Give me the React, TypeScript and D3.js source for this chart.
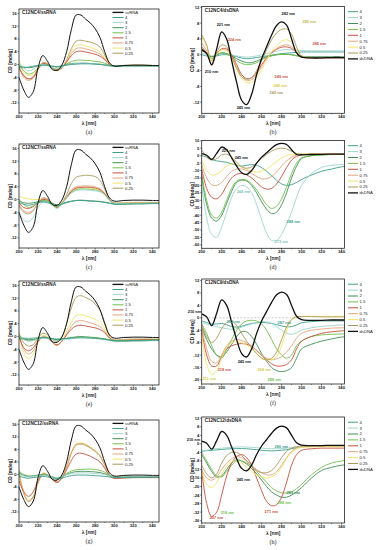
import React from 'react';
import * as d3 from 'd3';

// wavelength grid shared by every curve (nm)
const wavelengths = [200, 205, 210, 215, 220, 225, 230, 235, 240, 245, 250, 255, 260, 265, 270, 275, 280, 285, 290, 295, 300, 310, 320, 330, 340, 350];

const rnaSeries = ['ssRNA', '4', '3', '2', '1.5', '1', '0.75', '0.5', '0.25'];
const dnaSeries = ['4', '3', '2', '1.5', '1', '0.75', '0.5', '0.25', 'dsDNA'];

const seriesColors: Record<string, string> = {
  ssRNA: '#111111',
  dsDNA: '#111111',
  '4': '#3f9e8c',
  '3': '#9dd5cc',
  '2': '#3f8f55',
  '1.5': '#72bf4c',
  '1': '#c64f3c',
  '0.75': '#e2a47c',
  '0.5': '#f1e46a',
  '0.25': '#a8995a',
};

const xTicks = [200, 220, 240, 260, 280, 300, 320, 340];
const xMinorTicks = [210, 230, 250, 270, 290, 310, 330];
const rnaTicks = [-12, -8, -4, 0, 4, 8, 12, 16];
const bTicks = [-12, -8, -4, 0, 4, 8, 12];
const dTicks = [-60, -55, -50, -45, -40, -35, -30, -25, -20, -15, -10, -5, 0, 5, 10];
const fTicks = [-20, -16, -12, -8, -4, 0, 4, 8, 12];
const hTicks = [-36, -32, -28, -24, -20, -16, -12, -8, -4, 0, 4, 8, 12];

const ssRNA = [-4, -8, -10.3, -8.5, -1, 2.8, 1, -1.6, -1.8, -0.2, 4, 11, 15.5, 15.5, 14.2, 13, 11.2, 8.5, 4, 0.5, -0.5, -0.3, -0.2, -0.2, -0.3, -0.3];
const dsDNA = [1.3, 0.3, -2.5, 1.5, 5.8, 4, -1.5, -7, -11.5, -12.6, -10, -5, -1, 2, 5, 7.4, 8.3, 7.5, 4, 0.5, -0.6, -0.8, -0.8, -0.7, -0.7, -0.7];

// (a) C12NC4/ssRNA : ssRNA, 4, 3, 2, 1.5, 1, 0.75, 0.5, 0.25
const aValues = [
  ssRNA,
  [-1, -1, -0.8, -0.5, -0.3, -0.2, -0.3, -0.5, -0.6, -0.4, -0.2, 0, 0.1, 0.2, 0.2, 0.2, 0.1, 0, -0.2, -0.4, -0.5, -0.4, -0.4, -0.4, -0.4, -0.4],
  [0.5, -1, -2, -1.5, -0.5, 0, -0.3, -1, -1.3, -0.8, -0.2, 0.1, 0.3, 0.4, 0.4, 0.3, 0.2, 0.1, -0.2, -0.5, -0.6, -0.5, -0.5, -0.5, -0.5, -0.5],
  [-0.5, -0.8, -1, -0.8, -0.4, -0.1, -0.2, -0.6, -0.8, -0.5, 0, 0.3, 0.4, 0.4, 0.4, 0.3, 0.2, 0.1, -0.1, -0.3, -0.4, -0.4, -0.4, -0.4, -0.4, -0.4],
  [0, -2, -3, -2.5, -1, 0, -0.2, -1, -1.5, -0.8, 0.2, 0.9, 1.3, 1.4, 1.3, 1.2, 1, 0.8, 0.4, -0.2, -0.5, -0.4, -0.4, -0.4, -0.4, -0.4],
  [-1, -3.5, -4.5, -4, -1.5, 0.3, 0, -1.2, -1.8, -1, 0.8, 2.8, 4, 4.2, 3.9, 3.6, 3.2, 2.6, 1.5, 0, -0.5, -0.4, -0.3, -0.3, -0.4, -0.4],
  [-0.5, -4, -5, -4.3, -1.5, 0.5, 0.2, -1.2, -1.9, -1, 1, 3.5, 5, 5.2, 4.9, 4.5, 4, 3.3, 1.8, 0.2, -0.5, -0.4, -0.3, -0.3, -0.4, -0.4],
  [1.5, -2.5, -3.5, -3, -1, 0.5, 0.2, -1.2, -2, -1, 1.2, 4.2, 6, 6.2, 5.8, 5.4, 4.8, 4, 2.2, 0.2, -0.5, -0.3, -0.2, -0.2, -0.3, -0.3],
  [-1, -3.5, -4.5, -3.8, -1.2, 0.6, 0.3, -1.2, -1.9, -1, 1.5, 5, 7.3, 7.6, 7.3, 7, 6.5, 5.5, 3, 0.3, -0.5, -0.3, -0.2, -0.2, -0.3, -0.3],
];

// (c) C12NC7/ssRNA
const cValues = [
  ssRNA,
  [-1, -1.5, -1.8, -1.5, -1, -0.8, -1, -1.5, -2, -1.5, -1, -0.6, -0.3, -0.3, -0.4, -0.5, -0.6, -0.7, -0.9, -1.2, -1.5, -1.5, -1.4, -1.4, -1.3, -1.3],
  [-4, -6.5, -7, -5.5, -2.5, -0.8, -0.8, -2, -2.8, -1.5, 0.5, 2, 2.8, 3, 3, 2.9, 2.7, 2.4, 1.5, -0.3, -1.2, -1.3, -1.3, -1.2, -1.2, -1.2],
  [-0.5, -1, -1.2, -1, -0.7, -0.5, -0.7, -1.2, -1.7, -1.3, -0.8, -0.5, -0.3, -0.2, -0.3, -0.4, -0.5, -0.6, -0.8, -1.1, -1.4, -1.4, -1.3, -1.3, -1.2, -1.2],
  [0, -1.5, -2.5, -2, -1, -0.3, -0.4, -1.5, -2.3, -1.2, 0.5, 2.2, 3.1, 3.3, 3.3, 3.2, 3, 2.6, 1.6, -0.2, -1.2, -1.3, -1.3, -1.2, -1.2, -1.2],
  [-1, -2.5, -2.8, -2.2, -0.8, 0, -0.2, -1.5, -2.5, -1.3, 0.6, 2.6, 3.6, 3.8, 3.9, 3.8, 3.6, 3.1, 1.8, -0.2, -1.2, -1.3, -1.2, -1.2, -1.2, -1.2],
  [-1.5, -3.5, -4, -3.2, -1, 0.3, 0, -1.5, -2.5, -1.2, 0.8, 3, 4, 4.2, 4.3, 4.2, 4, 3.4, 2, -0.2, -1.2, -1.2, -1.1, -1.1, -1.1, -1.1],
  [1, 0.5, 0.2, 0, 0, 0, -0.2, -1, -2, -1, 0.6, 2.5, 3.4, 3.6, 3.7, 3.6, 3.4, 2.9, 1.7, -0.3, -1.2, -1.1, -1, -1, -1, -1],
  [-2, -4, -4.5, -3.5, -1, 0.5, 0.2, -1.3, -2.3, -1, 1.5, 5, 7, 7.4, 7.6, 7.5, 7.2, 6, 3.3, 0, -1, -1, -0.9, -0.9, -0.9, -0.9],
];

// (e) C12NC9/ssRNA
const eValues = [
  ssRNA,
  [-0.5, -0.5, -0.6, -0.5, -0.4, -0.3, -0.4, -0.6, -0.8, -0.7, -0.6, -0.5, -0.4, -0.4, -0.4, -0.5, -0.6, -0.7, -0.9, -1.1, -1.3, -1.4, -1.3, -1.3, -1.2, -1.2],
  [0, -1, -1.5, -1.3, -0.8, -0.5, -0.6, -1, -1.3, -1.1, -0.9, -0.7, -0.5, -0.4, -0.4, -0.5, -0.6, -0.8, -1, -1.3, -1.6, -1.6, -1.5, -1.4, -1.3, -1.3],
  [-0.5, -0.8, -1, -0.9, -0.6, -0.4, -0.5, -0.8, -1, -0.8, -0.6, -0.4, -0.2, -0.1, -0.2, -0.3, -0.4, -0.6, -0.8, -1.1, -1.4, -1.4, -1.3, -1.3, -1.2, -1.2],
  [0.5, -0.8, -1.3, -1.1, -0.6, -0.3, -0.4, -0.8, -1.1, -0.9, -0.6, -0.3, -0.1, 0, -0.1, -0.2, -0.3, -0.5, -0.7, -1, -1.3, -1.3, -1.2, -1.2, -1.1, -1.1],
  [0, -3.5, -4.5, -3.5, -1.5, -0.3, -0.5, -1.8, -2.6, -1.5, 0.5, 2.3, 3.3, 3.5, 3.3, 3, 2.7, 2.2, 1.2, -0.5, -1.3, -1.2, -1.1, -1, -1, -1],
  [1, -4, -5.5, -4.5, -1.5, 0, -0.3, -1.8, -2.8, -1.5, 0.8, 3.2, 4.7, 5, 4.7, 4.3, 3.8, 3.1, 1.7, -0.4, -1.3, -1.2, -1.1, -1, -1, -1],
  [1.5, -5, -7, -5.5, -2, 0.3, -0.2, -1.8, -2.8, -1.2, 1.5, 4.5, 6.6, 6.8, 6.5, 6, 5.4, 4.4, 2.4, -0.2, -1.2, -1.1, -1, -0.9, -0.9, -0.9],
  [1, -2, -3, -2.5, -0.5, 1, 0.5, -1, -1.5, 0, 4, 9, 12.3, 12.8, 12.2, 11.5, 10.2, 8.2, 4.5, 0.3, -1, -0.9, -0.8, -0.8, -0.8, -0.8],
];

// (g) C12NC12/ssRNA
const gValues = [
  ssRNA,
  [-0.5, -1, -1.2, -1, -0.8, -0.6, -0.8, -1.2, -1.5, -1.2, -0.7, -0.4, -0.2, -0.2, -0.2, -0.3, -0.4, -0.5, -0.6, -0.8, -1, -1, -1, -0.9, -0.9, -0.9],
  [0, -0.5, -0.8, -0.6, -0.4, -0.2, -0.3, -0.7, -1, -0.7, -0.1, 0.3, 0.5, 0.5, 0.5, 0.4, 0.3, 0.2, 0, -0.4, -0.8, -0.8, -0.8, -0.7, -0.7, -0.7],
  [0.5, -0.3, -0.6, -0.5, -0.3, -0.1, -0.3, -0.8, -1.2, -0.8, 0, 0.6, 0.9, 1, 1, 0.9, 0.8, 0.6, 0.2, -0.4, -0.8, -0.8, -0.7, -0.7, -0.7, -0.7],
  [1, 0, -0.5, -0.4, -0.2, 0, -0.2, -0.8, -1.3, -0.7, 0.3, 1.1, 1.5, 1.6, 1.7, 1.7, 1.6, 1.3, 0.7, -0.3, -0.8, -0.8, -0.7, -0.7, -0.7, -0.7],
  [-2, -5.5, -7, -5.5, -2, 0, -0.3, -1.5, -2.5, -1.2, 1.5, 4.5, 6.5, 6.8, 6.4, 5.8, 5, 4, 2, -0.5, -1.2, -1.1, -1, -1, -1, -1],
  [1, -6, -8.5, -7, -2.5, 0.3, -0.2, -1.5, -2.5, -1, 2.5, 7, 9.6, 9.9, 9.5, 8.6, 7.5, 6, 3.2, -0.2, -1.1, -1, -0.9, -0.9, -0.9, -0.9],
  [1.5, -5.5, -8.3, -7, -2.5, 0.5, 0, -1.4, -2.4, -0.9, 2.6, 7.2, 9.8, 10.1, 9.7, 8.8, 7.7, 6.2, 3.3, -0.2, -1, -0.9, -0.8, -0.8, -0.8, -0.8],
  [0.5, -6, -8.7, -7.3, -2.7, 0.2, -0.3, -1.6, -2.6, -1.1, 2.3, 6.8, 9.4, 9.7, 9.3, 8.4, 7.3, 5.8, 3, -0.3, -1.2, -1.1, -1, -1, -1, -1],
];

// (b) C12NC4/dsDNA : 4, 3, 2, 1.5, 1, 0.75, 0.5, 0.25, dsDNA
const bValues = [
  [0, -0.3, -0.5, -0.3, 0, 0, -0.2, -0.5, -0.8, -1, -0.9, -0.7, -0.5, -0.3, -0.1, 0.1, 0.3, 0.4, 0.5, 0.6, 0.7, 0.7, 0.7, 0.7, 0.7, 0.7],
  [0.5, 0, -0.3, 0, 0.3, 0.3, 0, -0.3, -0.5, -0.6, -0.5, -0.3, 0, 0.3, 0.6, 0.9, 1.2, 1.3, 1.3, 1.2, 1.1, 1, 1, 1, 1, 1],
  [1, 0.5, -0.5, 0, 0.5, 0.3, -0.3, -1, -1.6, -2, -2, -1.6, -1, -0.5, -0.2, 0, 0.1, 0.1, 0, -0.2, -0.4, -0.5, -0.5, -0.5, -0.5, -0.5],
  [1.5, 0.5, -1, 0, 0.5, 0.2, -0.5, -1.5, -2.2, -2.5, -2.4, -2, -1.3, -0.7, -0.3, 0, 0.1, 0.1, 0, -0.3, -0.6, -0.7, -0.7, -0.7, -0.7, -0.7],
  [2, 0.5, -1.5, 0.2, 1.5, 1.5, 0, -2.5, -5, -6, -5.8, -4.5, -2.5, -0.8, 0.5, 1.4, 1.9, 2, 1.6, 0.5, -0.5, -0.8, -0.8, -0.8, -0.8, -0.8],
  [3, 1, -1.5, 0.3, 1.3, 1.2, -0.5, -3, -5.5, -6.5, -6.3, -5, -3, -1, 0.5, 1.6, 2.3, 2.5, 2, 0.6, -0.5, -0.8, -0.8, -0.8, -0.8, -0.8],
  [4.5, 2, -1.5, 0.2, 1.2, 1, -1, -3.5, -6, -7, -7, -5.8, -3.8, -1.3, 0.8, 2.3, 3.4, 3.8, 3.2, 1.2, -0.3, -0.7, -0.7, -0.7, -0.7, -0.7],
  [5, 2.5, -2.8, 0.5, 2.5, 2, -0.5, -3.5, -5.5, -6.2, -5.8, -4, -1.5, 1.3, 3.8, 5.5, 6.4, 6.5, 5.2, 2, -0.3, -0.7, -0.7, -0.7, -0.7, -0.7],
  dsDNA,
];

// (d) C12NC7/dsDNA
const dValues = [
  [0, -1, -2.5, -3.5, -4, -4.5, -5.5, -6.5, -7, -6.5, -6, -6.5, -8, -10.5, -13.5, -16.5, -19, -20, -19.5, -18, -16, -13, -10.5, -9, -7.5, -7],
  [-20, -42, -53, -55, -48, -38, -28, -22, -20, -21, -25, -33, -43, -52, -57, -57, -53, -46, -38, -28, -20, -12, -8, -6.5, -6, -6],
  [-14, -33, -42, -44, -40, -32, -24, -18, -16.5, -17, -20, -25, -31, -36, -39, -38, -33, -25, -15, -7, -2, 0, 0.5, 0.8, 1, 1],
  [-12, -30, -40, -42, -38, -30, -22, -17, -16, -16.5, -19, -23, -28, -33, -35.5, -34, -29, -21, -12, -5, -1.5, 0, 0.5, 0.8, 1, 1],
  [-9, -22, -28, -29, -26, -20, -15, -12.5, -12, -13, -15, -18, -21, -22.5, -22, -19, -14, -8, -3, -0.5, 0.5, 1, 1, 1, 1, 1],
  [-6, -15, -19.5, -20, -18, -14, -10.5, -9, -9, -10, -12, -14, -15.5, -15.5, -14, -11, -7, -3.5, -1, 0.3, 0.8, 1, 1, 1, 1, 1],
  [-3, -10, -13, -12.5, -10, -7, -5.5, -6, -7.5, -9, -10.5, -11, -10.5, -9, -6.5, -4, -1.5, 0, 0.8, 1, 1, 1, 1, 1, 1, 1],
  [4, -1, -3, -2, 0.5, 1, -1, -4.5, -7.5, -8.5, -7.5, -5, -2, 0.8, 3, 4.5, 5, 4.5, 3, 1.5, 1, 1, 1, 1, 1, 1],
  [1.3, 0.3, -2.5, 1.5, 5.8, 4, -1.5, -7, -11.5, -12.6, -10, -5, -1, 2, 5, 7.4, 8.3, 7.5, 4, 0.8, 0.6, 0.8, 0.9, 1, 1, 1],
];

// (f) C12NC9/dsDNA
const fValues = [
  [-1, -1.5, -2, -2, -1.8, -2.2, -2.8, -3, -2.7, -2.2, -1.8, -1.6, -1.5, -1.6, -1.8, -2.2, -2.6, -2.9, -2.8, -2.3, -1.6, -1.2, -1, -1, -1, -1],
  [-1.5, -2, -2.5, -2.8, -3.2, -3.5, -3.7, -3.5, -3, -2.5, -2, -1.5, -1.2, -1.3, -1.8, -2.8, -4, -5, -5.3, -4.8, -4, -3.2, -2.8, -2.5, -2.3, -2.2],
  [-3, -7, -10, -12, -12.5, -11, -8.5, -6, -4.5, -4.5, -6, -8.5, -11.5, -14, -16, -17, -17.3, -17, -16, -13, -10, -8.5, -7.5, -6.8, -6.2, -6],
  [-2, -5, -9, -12, -13, -10, -7, -4, -2, -1, -0.8, -1, -2, -4, -7, -10, -12, -13, -12, -9, -7.5, -6, -5.5, -5.3, -5.2, -5.2],
  [-4, -12, -15.5, -15.5, -12.5, -10, -9, -8.5, -8.3, -8.5, -9.2, -10.5, -12, -13.5, -14.8, -15.5, -15.5, -15, -13.5, -10, -7.5, -6, -5, -4.5, -4.2, -4],
  [-3, -10, -14, -14.5, -12, -9, -7.5, -7, -7.3, -8, -9, -10.5, -12, -13, -13.5, -13.2, -12.5, -11, -9, -6.5, -5, -4, -3.6, -3.3, -3.2, -3.2],
  [-5, -15, -18.2, -17, -13, -9.5, -8, -7.7, -8, -8.8, -10, -11.5, -12.8, -13.5, -13.5, -12.5, -9, -4, -0.8, 0.3, 0.5, 0.5, 0.5, 0.5, 0.5, 0.5],
  [-2, -6, -8, -6.5, -3.5, -1.5, -1, -2.5, -5, -7.5, -9.5, -11.5, -13, -13.5, -13, -11, -7, -3, -0.5, 0.3, 0.4, 0.4, 0.3, 0.3, 0.3, 0.3],
  dsDNA,
];

// (h) C12NC12/dsDNA
const hValues = [
  [-3.5, -3.2, -3, -2.8, -2.6, -2.4, -2.3, -2.2, -2.2, -2.3, -2.5, -2.7, -3, -3.2, -3.3, -3.2, -3, -2.7, -2.3, -1.8, -1.4, -1.1, -1, -1, -1, -1],
  [-3.5, -3, -2.5, -2.2, -2, -1.8, -1.6, -1.5, -1.4, -1.5, -1.6, -1.8, -2, -2.2, -2.3, -2.3, -2.2, -2, -1.8, -1.5, -1.2, -1, -0.9, -0.9, -0.9, -0.9],
  [-5, -9, -13, -15.5, -15, -12, -9, -7.5, -8, -9.5, -11.5, -14, -17, -20, -22.5, -24, -25, -25, -24, -22.5, -20.5, -16, -12.5, -11, -10, -9.8],
  [-4, -8, -12, -15, -15.5, -13, -10, -8, -8, -9, -10.5, -13, -15.5, -18, -20.5, -22, -23, -23, -22.5, -21, -19, -14.5, -11, -9, -8, -7.5],
  [-12, -28, -34, -32, -24, -15, -9, -6, -5, -6.5, -10, -16, -22, -27, -29, -28.5, -25, -18, -10, -5, -3, -2.3, -2, -2, -2, -2],
  [-12, -16, -17, -15.5, -12, -9, -7, -6, -6.5, -8, -10, -12, -13.5, -14.5, -14.5, -13, -10, -6.5, -3.5, -2, -1.5, -1.3, -1.2, -1.2, -1.2, -1.2],
  [-13, -19, -20.5, -18, -14, -10.5, -8.5, -8, -9, -11, -13, -14.5, -15.5, -16, -15.5, -14, -11, -7, -4, -2.3, -1.7, -1.4, -1.3, -1.3, -1.3, -1.3],
  [-10, -14, -16, -14, -9, -5.5, -4, -4, -5.5, -8, -10.5, -12.5, -13.5, -13.5, -12.5, -10, -6.5, -3.5, -2, -1.3, -1, -0.9, -0.9, -0.9, -0.9, -0.9],
  dsDNA,
];

type Note = { text: string; nm: number; v: number; color: string };

const bNotes: Note[] = [
  { text: '221 nm', nm: 215, v: 7.5, color: '#111' },
  { text: '224 nm', nm: 226, v: 3.7, color: '#c64f3c' },
  { text: '210 nm', nm: 203, v: -4.3, color: '#111' },
  { text: '282 nm', nm: 280, v: 10.3, color: '#111' },
  { text: '283 nm', nm: 301, v: 8.3, color: '#c2b43c' },
  { text: '285 nm', nm: 311, v: 2.7, color: '#c64f3c' },
  { text: '249 nm', nm: 273, v: -5.6, color: '#c64f3c' },
  { text: '245 nm', nm: 272, v: -7.8, color: '#d8c840' },
  { text: '242 nm', nm: 268, v: -9.6, color: '#a8995a' },
  { text: '245 nm', nm: 235, v: -13.3, color: '#111' },
];
const dNotes: Note[] = [
  { text: '221 nm', nm: 220, v: 3.1, color: '#111' },
  { text: '245 nm', nm: 233, v: -1.4, color: '#111' },
  { text: '244 nm', nm: 235, v: -24.4, color: '#7cc3b9' },
  { text: '288 nm', nm: 285, v: -44.6, color: '#3f9e8c' },
  { text: '273 nm', nm: 273, v: -58.1, color: '#7cc3b9' },
];
const fNotes: Note[] = [
  { text: '210 nm', nm: 186, v: 2, color: '#111' },
  { text: '232 nm', nm: 225, v: -1.2, color: '#3f9e8c' },
  { text: '287 nm', nm: 276, v: -1.6, color: '#3f9e8c' },
  { text: '245 nm', nm: 236, v: -14.1, color: '#111' },
  { text: '218 nm', nm: 216, v: -16.8, color: '#c64f3c' },
  { text: '269 nm', nm: 256, v: -16.8, color: '#d8c840' },
  { text: '211 nm', nm: 201, v: -19.7, color: '#d8c840' },
  { text: '288 nm', nm: 266, v: -20, color: '#72bf4c' },
];
const hNotes: Note[] = [
  { text: '210 nm', nm: 185, v: 2, color: '#111' },
  { text: '280 nm', nm: 273, v: -1.5, color: '#3f9e8c' },
  { text: '245 nm', nm: 235, v: -16.9, color: '#111' },
  { text: '289 nm', nm: 285, v: -23, color: '#3f8f55' },
  { text: '288 nm', nm: 276, v: -27.7, color: '#72bf4c' },
  { text: '271 nm', nm: 263, v: -31.8, color: '#c64f3c' },
  { text: '218 nm', nm: 219, v: -32.4, color: '#72bf4c' },
  { text: '207 nm', nm: 208, v: -34.6, color: '#c64f3c' },
];

const SANS = '"Liberation Sans", Arial, sans-serif';
const SERIF = '"Liberation Serif", "Times New Roman", serif';

type PanelProps = {
  id: string;
  title: string;
  label: string;
  values: number[][];
  series: string[];
  left: number;
  right: number;
  top: number;
  bottom: number;
  xMax: number;
  yDomain: [number, number];
  yTicks: number[];
  rna: boolean;
  notes?: Note[];
  zeroLine?: boolean;
};

function Panel(p: PanelProps) {
  const x = d3.scaleLinear().domain([200, p.xMax]).range([p.left, p.right]);
  const y = d3.scaleLinear().domain(p.yDomain).range([p.bottom, p.top]);
  const line = d3
    .line<number>()
    .x((_, i) => x(wavelengths[i]))
    .y((d) => y(d))
    .curve(d3.curveCatmullRom.alpha(0.5));

  const order = p.rna ? [8, 7, 6, 5, 4, 3, 2, 1, 0] : [0, 1, 2, 3, 4, 5, 6, 7, 8];
  const black = p.rna ? 0 : 8;
  const cx = (p.left + p.right) / 2;
  const cy = (p.top + p.bottom) / 2;

  return (
    <g>
      <defs>
        <clipPath id={`clip-${p.id}`}>
          <rect x={p.left} y={p.top} width={p.right - p.left} height={p.bottom - p.top} />
        </clipPath>
      </defs>
      <g clipPath={`url(#clip-${p.id})`}>
        {p.zeroLine && (
          <line x1={x(200)} x2={x(300)} y1={y(0)} y2={y(0)} stroke="#aaa" strokeWidth={0.6} strokeDasharray="2,1.5" />
        )}
        {order.map((i) => (
          <path
            key={i}
            d={line(p.values[i]) || ''}
            fill="none"
            stroke={seriesColors[p.series[i]]}
            strokeWidth={i === black ? (p.rna ? 1 : 1.3) : 0.9}
          />
        ))}
      </g>
      <rect x={p.left} y={p.top} width={p.right - p.left} height={p.bottom - p.top} fill="none" stroke="#222" strokeWidth={0.8} />
      {/* y axis */}
      {p.yTicks.map((t) => (
        <g key={t}>
          <line x1={p.left - 1.5} x2={p.left} y1={y(t)} y2={y(t)} stroke="#222" strokeWidth={0.6} />
          <text x={p.left - 2.3} y={y(t)} dy="0.35em" fontSize={4.2} fontFamily={SANS} fontWeight="bold" textAnchor="end" fill="#222">
            {t}
          </text>
        </g>
      ))}
      {/* x axis */}
      {xTicks.map((t) => (
        <g key={t}>
          <line x1={x(t)} x2={x(t)} y1={p.bottom} y2={p.bottom + 1.6} stroke="#222" strokeWidth={0.6} />
          <text x={x(t)} y={p.bottom + 5} fontSize={4.2} fontFamily={SANS} fontWeight="bold" textAnchor="middle" fill="#222">
            {t}
          </text>
        </g>
      ))}
      {xMinorTicks.map((t) => (
        <line key={t} x1={x(t)} x2={x(t)} y1={p.bottom} y2={p.bottom + 1} stroke="#222" strokeWidth={0.5} />
      ))}
      <text x={cx} y={p.bottom + 11.5} fontSize={4.8} fontFamily={SANS} fontWeight="bold" textAnchor="middle" fill="#222">
        λ [nm]
      </text>
      <text x={cx} y={p.bottom + 21} fontSize={6} fontFamily={SERIF} textAnchor="middle" fill="#222">
        {p.label}
      </text>
      <text
        transform={`translate(${p.left - 7.5},${cy}) rotate(-90)`}
        fontSize={4.8}
        fontFamily={SANS}
        fontWeight="bold"
        textAnchor="middle"
        fill="#222"
      >
        CD [mdeg]
      </text>
      {p.title && (
        <text x={p.left + 3} y={p.top + 5} fontSize={4.6} fontFamily={SANS} fontWeight="bold" fill="#222">
          {p.title}
        </text>
      )}
      {/* legend */}
      {p.series.map((s, i) => {
        const lx = p.rna ? p.left + 93.5 : p.right + 3.5;
        const ly = p.rna ? p.top + 3.4 + i * 5.1 : p.top + 5.2 + i * 5.9;
        const len = p.rna ? 11 : 10;
        return (
          <g key={s}>
            <line x1={lx} x2={lx + len} y1={ly} y2={ly} stroke={seriesColors[s]} strokeWidth={s === 'ssRNA' || s === 'dsDNA' ? 1.3 : 1} />
            <text x={lx + len + 1.5} y={ly} dy="0.35em" fontSize={4.2} fontFamily={SANS} fill="#222">
              {s}
            </text>
          </g>
        );
      })}
      {(p.notes || []).map((n, i) => (
        <text key={i} x={x(n.nm)} y={y(n.v)} dy="0.35em" fontSize={3.9} fontFamily={SANS} fontWeight="bold" fill={n.color}>
          {n.text}
        </text>
      ))}
    </g>
  );
}

export default function App() {
  const L = { left: 19, right: 159, xMax: 347, yDomain: [-15.2, 17.4] as [number, number], yTicks: rnaTicks, rna: true, series: rnaSeries };
  const R = { left: 201.7, right: 344.5, xMax: 343, rna: false, series: dnaSeries };
  return (
    <div style={{ position: 'absolute', left: 0, top: 0 }}>
      <svg width={377} height={550} viewBox="0 0 377 550" style={{ display: 'block', background: '#fff' }}>
        <Panel id="a" title="C12NC4/ssRNA" label="(a)" values={aValues} top={9} bottom={113} {...L} />
        <Panel id="c" title="C12NC7/ssRNA" label="(c)" values={cValues} top={144} bottom={248} {...L} />
        <Panel id="e" title="C12NC9/ssRNA" label="(e)" values={eValues} top={281} bottom={385} {...L} />
        <Panel id="g" title="C12NC12/ssRNA" label="(g)" values={gValues} top={420} bottom={522} {...L} />
        <Panel id="b" title="C12NC4/dsDNA" label="(b)" values={bValues} top={6.5} bottom={113.3} yDomain={[-14.8, 12.2]} yTicks={bTicks} notes={bNotes} {...R} />
        <Panel id="d" title="" label="(d)" values={dValues} top={140.5} bottom={248.3} yDomain={[-62.3, 10.2]} yTicks={dTicks} notes={dNotes} {...R} />
        <Panel id="f" title="C12NC9/dsDNA" label="(f)" values={fValues} top={279} bottom={384} yDomain={[-21.3, 12.5]} yTicks={fTicks} notes={fNotes} zeroLine {...R} />
        <Panel id="h" title="C12NC12/dsDNA" label="(h)" values={hValues} top={417} bottom={523} yDomain={[-37.1, 12.6]} yTicks={hTicks} notes={hNotes} {...R} />
      </svg>
    </div>
  );
}
